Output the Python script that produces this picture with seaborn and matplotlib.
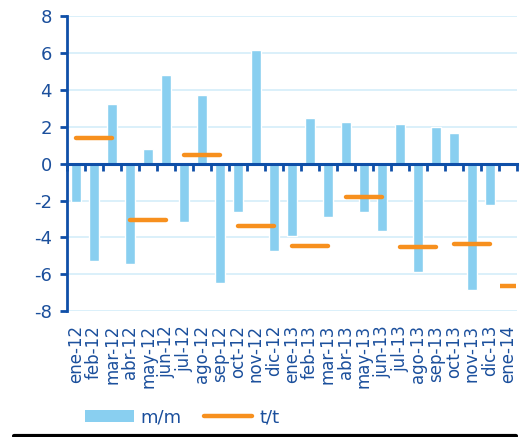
import numpy as np
import pandas as pd
import matplotlib
matplotlib.use("Agg")
import matplotlib.pyplot as plt
import seaborn as sns
from matplotlib.patches import Patch
from matplotlib.lines import Line2D

# -----------------------------
# Data
# -----------------------------
months = ["ene-12", "feb-12", "mar-12", "abr-12", "may-12", "jun-12",
          "jul-12", "ago-12", "sep-12", "oct-12", "nov-12", "dic-12",
          "ene-13", "feb-13", "mar-13", "abr-13", "may-13", "jun-13",
          "jul-13", "ago-13", "sep-13", "oct-13", "nov-13", "dic-13",
          "ene-14"]
mm = [-2.1, -5.27, 3.24, -5.45, 0.78, 4.83, -3.15, 3.73, -6.48, -2.6,
      6.19, -4.72, -3.91, 2.46, -2.9, 2.28, -2.6, -3.66, 2.14, -5.88,
      1.97, 1.68, -6.84, -2.23, -0.1]
tt = [1.41, -3.06, 0.47, -3.38, -4.47, -1.81, -4.54, -4.36, -6.61]

blue_bar = "#89CFF0"
orange = "#F7901E"
dark_blue = "#0F4FA8"
text_blue = "#1B4F9C"
grid_blue = "#D4EEFA"

sns.set_style("white")
plt.rcParams['font.family'] = ['DejaVu Sans']
plt.rcParams['axes.unicode_minus'] = False

fig = plt.figure(figsize=(5.28, 4.37), dpi=100)
ax = fig.add_axes([0.127, 0.288, 0.852, 0.675])

df = pd.DataFrame({"month": months, "mm": mm})
sns.barplot(data=df, x="month", y="mm", color=blue_bar, saturation=1,
            width=0.52, ax=ax, zorder=2)

# quarterly t/t lines over the months of each quarter
pos = np.arange(len(months))
for q, v in enumerate(tt):
    xs = pos[q * 3:q * 3 + 3]
    if len(xs) > 1:
        ax.plot(xs, [v] * len(xs), color=orange, lw=3.2,
                solid_capstyle="round", zorder=3)
    else:
        ax.plot(xs, [v], color=orange, marker="_", ms=11, mew=3.2,
                ls="none", zorder=3)

ax.set_xlim(-0.5, len(months) - 0.5)
ax.set_ylim(-8, 8)
ax.set_yticks(range(-8, 9, 2))
ax.yaxis.grid(True, color=grid_blue, lw=1.2)
ax.set_axisbelow(True)
ax.set_xlabel("")
ax.set_ylabel("")

for s in ["top", "right"]:
    ax.spines[s].set_visible(False)
ax.spines["left"].set_color(dark_blue)
ax.spines["left"].set_linewidth(2)
ax.spines["bottom"].set_position(("data", 0))
ax.spines["bottom"].set_color(dark_blue)
ax.spines["bottom"].set_linewidth(2.2)
ax.spines["bottom"].set_zorder(4)

ax.tick_params(axis="y", left=True, colors=dark_blue, length=5, width=2,
               pad=6, labelsize=13, labelcolor=text_blue)
ax.set_xticks(np.arange(-0.5, len(months), 1.0))
ax.tick_params(axis="x", which="major", bottom=True, direction="out",
               length=5, width=2, colors=dark_blue, labelbottom=False)

# month labels along the bottom of the plot
sec = ax.secondary_xaxis(0)
sec.set_xticks(pos)
sec.set_xticklabels(months, rotation=90)
sec.tick_params(length=0, pad=10, labelsize=12, labelcolor=text_blue)
sec.spines["bottom"].set_visible(False)

handles = [Patch(facecolor=blue_bar, edgecolor="none", label="m/m"),
           Line2D([0], [0], color=orange, lw=3.2, label="t/t")]
fig.legend(handles=handles, loc="center left", bbox_to_anchor=(0.13, 0.045),
           ncol=2, frameon=False, fontsize=13, labelcolor=text_blue,
           handlelength=2.7, handleheight=0.6, handletextpad=0.4,
           columnspacing=1.2)

fig.add_artist(Line2D([0.027, 0.978], [0.003, 0.003], color="black",
                      lw=3, transform=fig.transFigure))

fig.savefig("out.png", dpi=100)
